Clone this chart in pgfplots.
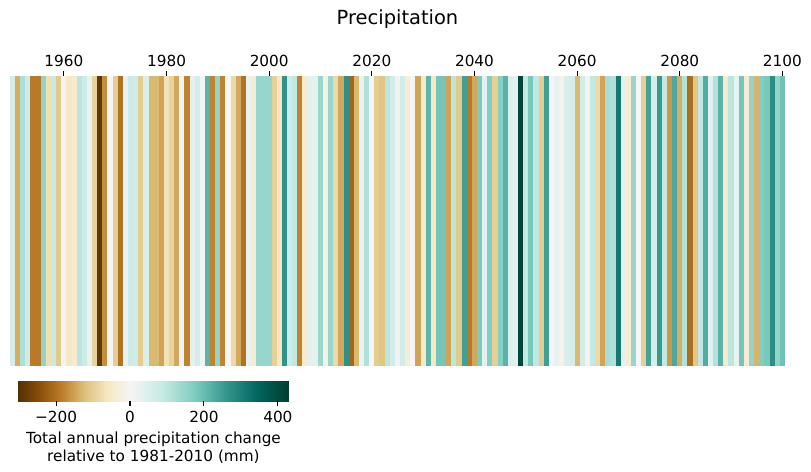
\documentclass[border=0pt]{standalone}
\usepackage{fontspec}
\setmainfont{DejaVu Sans}
\usepackage{pgfplots}
\usepackage{pgfplotstable}
\pgfplotsset{compat=1.18}

% one full-height stripe per year, filled with the mapped colour
\pgfdeclareplotmark{stripe}{%
  \pgfpathrectangle{\pgfpoint{-1.9pt}{-104.4pt}}{\pgfpoint{3.8pt}{208.8pt}}%
  \pgfusepathqfill}

% annual precipitation change (mm) relative to 1981-2010
\pgfplotstableread{
year v
1950 60
1951 -140
1952 120
1953 75
1954 -190
1955 -190
1956 150
1957 -75
1958 85
1959 -110
1960 5
1961 -60
1962 -45
1963 100
1964 80
1965 20
1966 -95
1967 -290
1968 -170
1969 0
1970 -105
1971 -200
1972 25
1973 80
1974 70
1975 -105
1976 50
1977 -130
1978 -130
1979 -150
1980 -70
1981 -95
1982 -145
1983 8
1984 -180
1985 30
1986 60
1987 10
1988 215
1989 -180
1990 150
1991 -180
1992 0
1993 -85
1994 -145
1995 -200
1996 25
1997 -40
1998 145
1999 145
2000 145
2001 -100
2002 -60
2003 265
2004 75
2005 95
2006 -180
2007 -45
2008 30
2009 30
2010 140
2011 -20
2012 145
2013 -85
2014 -145
2015 270
2016 -215
2017 -130
2018 25
2019 115
2020 0
2021 -105
2022 -115
2023 100
2024 65
2025 5
2026 65
2027 -35
2028 0
2029 -150
2030 -50
2031 210
2032 -60
2033 185
2034 185
2035 -150
2036 100
2037 -110
2038 245
2039 -190
2040 -145
2041 175
2042 35
2043 170
2044 -100
2045 165
2046 215
2047 45
2048 35
2049 410
2050 90
2051 180
2052 95
2053 -105
2054 245
2055 0
2056 20
2057 -15
2058 55
2059 60
2060 -130
2061 65
2062 5
2063 90
2064 -85
2065 -150
2066 125
2067 115
2068 310
2069 30
2070 -40
2071 145
2072 0
2073 -100
2074 240
2075 60
2076 255
2077 90
2078 -160
2079 230
2080 -140
2081 110
2082 -205
2083 -115
2084 95
2085 225
2086 35
2087 110
2088 215
2089 -50
2090 100
2091 25
2092 185
2093 -45
2094 150
2095 -135
2096 170
2097 180
2098 275
2099 150
2100 190
}\stripes

\begin{document}
\begin{tikzpicture}
\begin{axis}[
  name=main,
  scale only axis, width=558pt, height=208.8pt,
  xmin=1949.5, xmax=2100.5, ymin=0, ymax=1,
  axis line style={draw=none},
  xtick={1960,1980,2000,2020,2040,2060,2080,2100},
  xticklabels={1960,1980,2000,2020,2040,2060,2080,2100},
  ytick=\empty,
  xtick pos=right, xticklabel pos=right,
  tick align=outside, major tick length=3.5pt,
  every tick/.style={black, line width=0.8pt},
  tick label style={font=\fontsize{11}{13}\selectfont},
  title={Precipitation},
  title style={font=\fontsize{14}{16}\selectfont, at={(0.5,1)}, anchor=base, yshift=31.4pt},
  % BrBG, brown half over -303..0 and green half over 0..430
  colormap={brbg}{
    rgb255(0pt)=(84,48,5)
    rgb255(60.6pt)=(140,81,10)
    rgb255(121.2pt)=(191,129,45)
    rgb255(181.8pt)=(223,194,125)
    rgb255(242.4pt)=(246,232,195)
    rgb255(303pt)=(245,245,245)
    rgb255(389pt)=(199,234,229)
    rgb255(475pt)=(128,205,193)
    rgb255(561pt)=(53,151,143)
    rgb255(647pt)=(1,102,94)
    rgb255(733pt)=(0,60,48)
  },
  point meta min=-303, point meta max=430,
  colorbar horizontal,
  colorbar style={
    at={(0.01032,-0.0415)}, anchor=north west,
    width=195.1pt, height=16.6pt,
    axis line style={draw=none},
    xtick={-200,0,200,400},
    xticklabels={−200,0,200,400},
    xtick pos=left, xticklabel pos=left,
    tick align=outside, major tick length=3.5pt,
    every tick/.style={black, line width=0.8pt},
    tick label style={font=\fontsize{11}{13}\selectfont},
    xlabel={Total annual precipitation change\\relative to 1981-2010 (mm)},
    xlabel style={font=\fontsize{11}{12.6}\selectfont, align=center},
  },
]
\addplot[scatter, only marks, mark=stripe, point meta=explicit,
  scatter/use mapped color={draw=mapped color, fill=mapped color}]
  table[x=year, y expr=0.5, meta=v] {\stripes};
\end{axis}
\path ([xshift=-7.2pt, yshift=-76.32pt]main.south west) rectangle
      ([xshift=576.72pt, yshift=263.52pt]main.south west);
\end{tikzpicture}
\end{document}
